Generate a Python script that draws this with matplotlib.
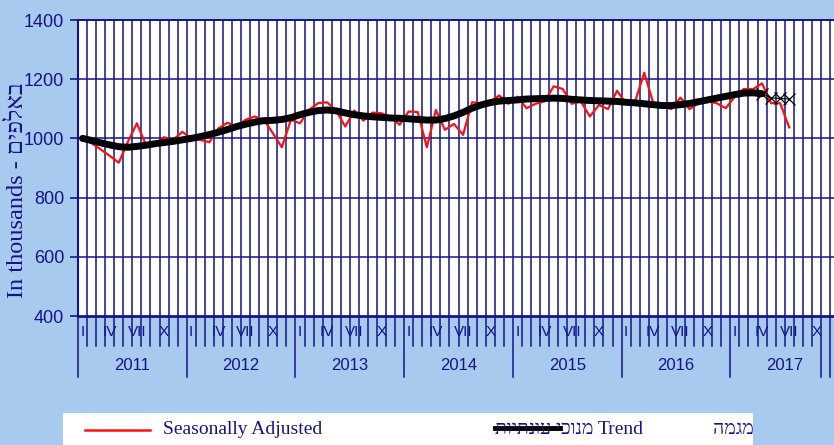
import numpy as np
import matplotlib
matplotlib.use('Agg')
import matplotlib.pyplot as plt

# Данные: помесячно с января 2011
years = ['2011', '2012', '2013', '2014', '2015', '2016', '2017']
month_labels = {0: 'I', 3: 'IV', 6: 'VII', 9: 'X'}

seasonal = [998, 984, 963, 941, 918, 988, 1051, 978, 976, 1004, 995, 1022,
            1001, 995, 987, 1034, 1053, 1040, 1063, 1074, 1063, 1018, 970, 1063,
            1051, 1096, 1119, 1122, 1093, 1040, 1094, 1060, 1087, 1085, 1072, 1046,
            1091, 1089, 970, 1096, 1029, 1049, 1012, 1122, 1119, 1125, 1145, 1117,
            1141, 1102, 1117, 1125, 1176, 1167, 1117, 1125, 1074, 1113, 1099, 1161,
            1117, 1125, 1222, 1119, 1108, 1099, 1138, 1099, 1119, 1125, 1119, 1102,
            1141, 1167, 1166, 1186, 1119, 1119, 1037]

trend = [1000, 993, 985, 978, 972, 970, 973, 977, 982, 986, 990, 995,
         1000, 1006, 1013, 1021, 1030, 1040, 1048, 1055, 1060, 1061, 1064, 1070,
         1080, 1088, 1094, 1096, 1093, 1086, 1080, 1076, 1073, 1071, 1069, 1068,
         1066, 1064, 1062, 1062, 1067, 1076, 1088, 1102, 1113, 1121, 1126, 1128,
         1130, 1133, 1134, 1135, 1136, 1135, 1132, 1130, 1128, 1127, 1126, 1125,
         1122, 1120, 1117, 1114, 1111, 1111, 1114, 1118, 1124, 1130, 1136, 1142,
         1148, 1153, 1154, 1151]

# последние месяцы тренда (предварительные)
trend_tail = [1151, 1137, 1135, 1133]

W, H = 834, 445
bg = '#a8caee'
navy = '#14148a'

fig = plt.figure(figsize=(W / 100, H / 100), dpi=100, facecolor=bg)

left, right, top, bottom = 78, 834, 20, 316
month_px = 9.06
ax = fig.add_axes([left / W, 1 - bottom / H, (right - left) / W, (bottom - top) / H])
ax.set_facecolor('white')
ax.set_xlim(0, (right - left) / month_px)
ax.set_ylim(400, 1400)

n_months = 12 * len(years)
for m in range(1, n_months):
    ax.axvline(m, color=navy, lw=1.1, zorder=1)
for v in range(600, 1400, 200):
    ax.axhline(v, color=navy, lw=1.1, zorder=1)
ax.axhline(1400, color=navy, lw=1.4, zorder=1, clip_on=False)

x_sa = np.arange(len(seasonal)) + 0.5
x_tr = np.arange(len(trend)) + 0.5
x_tail = np.arange(len(trend_tail)) + len(trend) - 0.5

ax.plot(x_sa, seasonal, color='#ff1010', lw=1.6, zorder=3)
ax.plot(x_tr, trend, color='black', lw=5, solid_capstyle='round', zorder=4)
ax.plot(x_tail, trend_tail, color='black', lw=0.8, marker='x', ms=9, mew=0.9, zorder=4)

for s in ['top', 'right']:
    ax.spines[s].set_visible(False)
ax.spines['left'].set_color(navy)
ax.spines['left'].set_linewidth(1.5)
ax.spines['bottom'].set_color(navy)
ax.spines['bottom'].set_linewidth(2)

ax.set_yticks(range(400, 1401, 200))
ax.tick_params(axis='y', colors=navy, labelsize=13, length=6, width=1.2, pad=4)
for t in ax.get_yticklabels():
    t.set_family('Liberation Sans')
ax.set_xticks([])

# подписи месяцев и годов под осью
tr = ax.get_xaxis_transform()
short = -30 / (bottom - top)
long_ = -61 / (bottom - top)
for m in range(n_months + 1):
    if m % 12 == 0 or m >= n_months - 2:
        ax.plot([m, m], [0, long_], color=navy, lw=1.1, transform=tr, clip_on=False)
    else:
        ax.plot([m, m], [0, short], color=navy, lw=1.1, transform=tr, clip_on=False)
for yi, yr in enumerate(years):
    for k, lab in month_labels.items():
        ax.text(yi * 12 + k + 0.5, -16 / (bottom - top), lab, transform=tr, ha='center',
                va='center', color=navy, fontsize=11, family='Liberation Sans')
    ax.text(yi * 12 + 6, -50 / (bottom - top), yr, transform=tr, ha='center', va='center',
            color=navy, fontsize=12, family='Liberation Sans')

fig.text(18 / W, 1 - 190 / H, 'In thousands - םיפלאב', rotation=90, ha='center', va='center',
         color=navy, fontsize=17.5, family=['Liberation Serif', 'DejaVu Serif'])

# легенда
fig.patches.append(plt.Rectangle((63 / W, 0), (753 - 63) / W, 1 - 413 / H,
                                 transform=fig.transFigure, facecolor='white', edgecolor='none'))
ly = 1 - 430 / H
serif = ['Liberation Serif', 'DejaVu Serif']
fig.add_artist(plt.Line2D([85 / W, 150 / W], [ly, ly], color='#ff1010', lw=1.8))
fig.text(163 / W, ly, 'Seasonally Adjusted', va='center', color=navy, fontsize=14, family=serif)
fig.text(495 / W, ly, 'תויתנוע יכונמ', va='center', color=navy, fontsize=14, family=serif)
fig.add_artist(plt.Line2D([495 / W, 560 / W], [ly + 0.004, ly + 0.004], color='black', lw=3.5))
fig.text(598 / W, ly, 'Trend', va='center', color=navy, fontsize=14, family=serif)
fig.text(713 / W, ly, 'המגמ', va='center', color=navy, fontsize=14, family=serif)

fig.savefig('out.png', dpi=100, facecolor=bg)
